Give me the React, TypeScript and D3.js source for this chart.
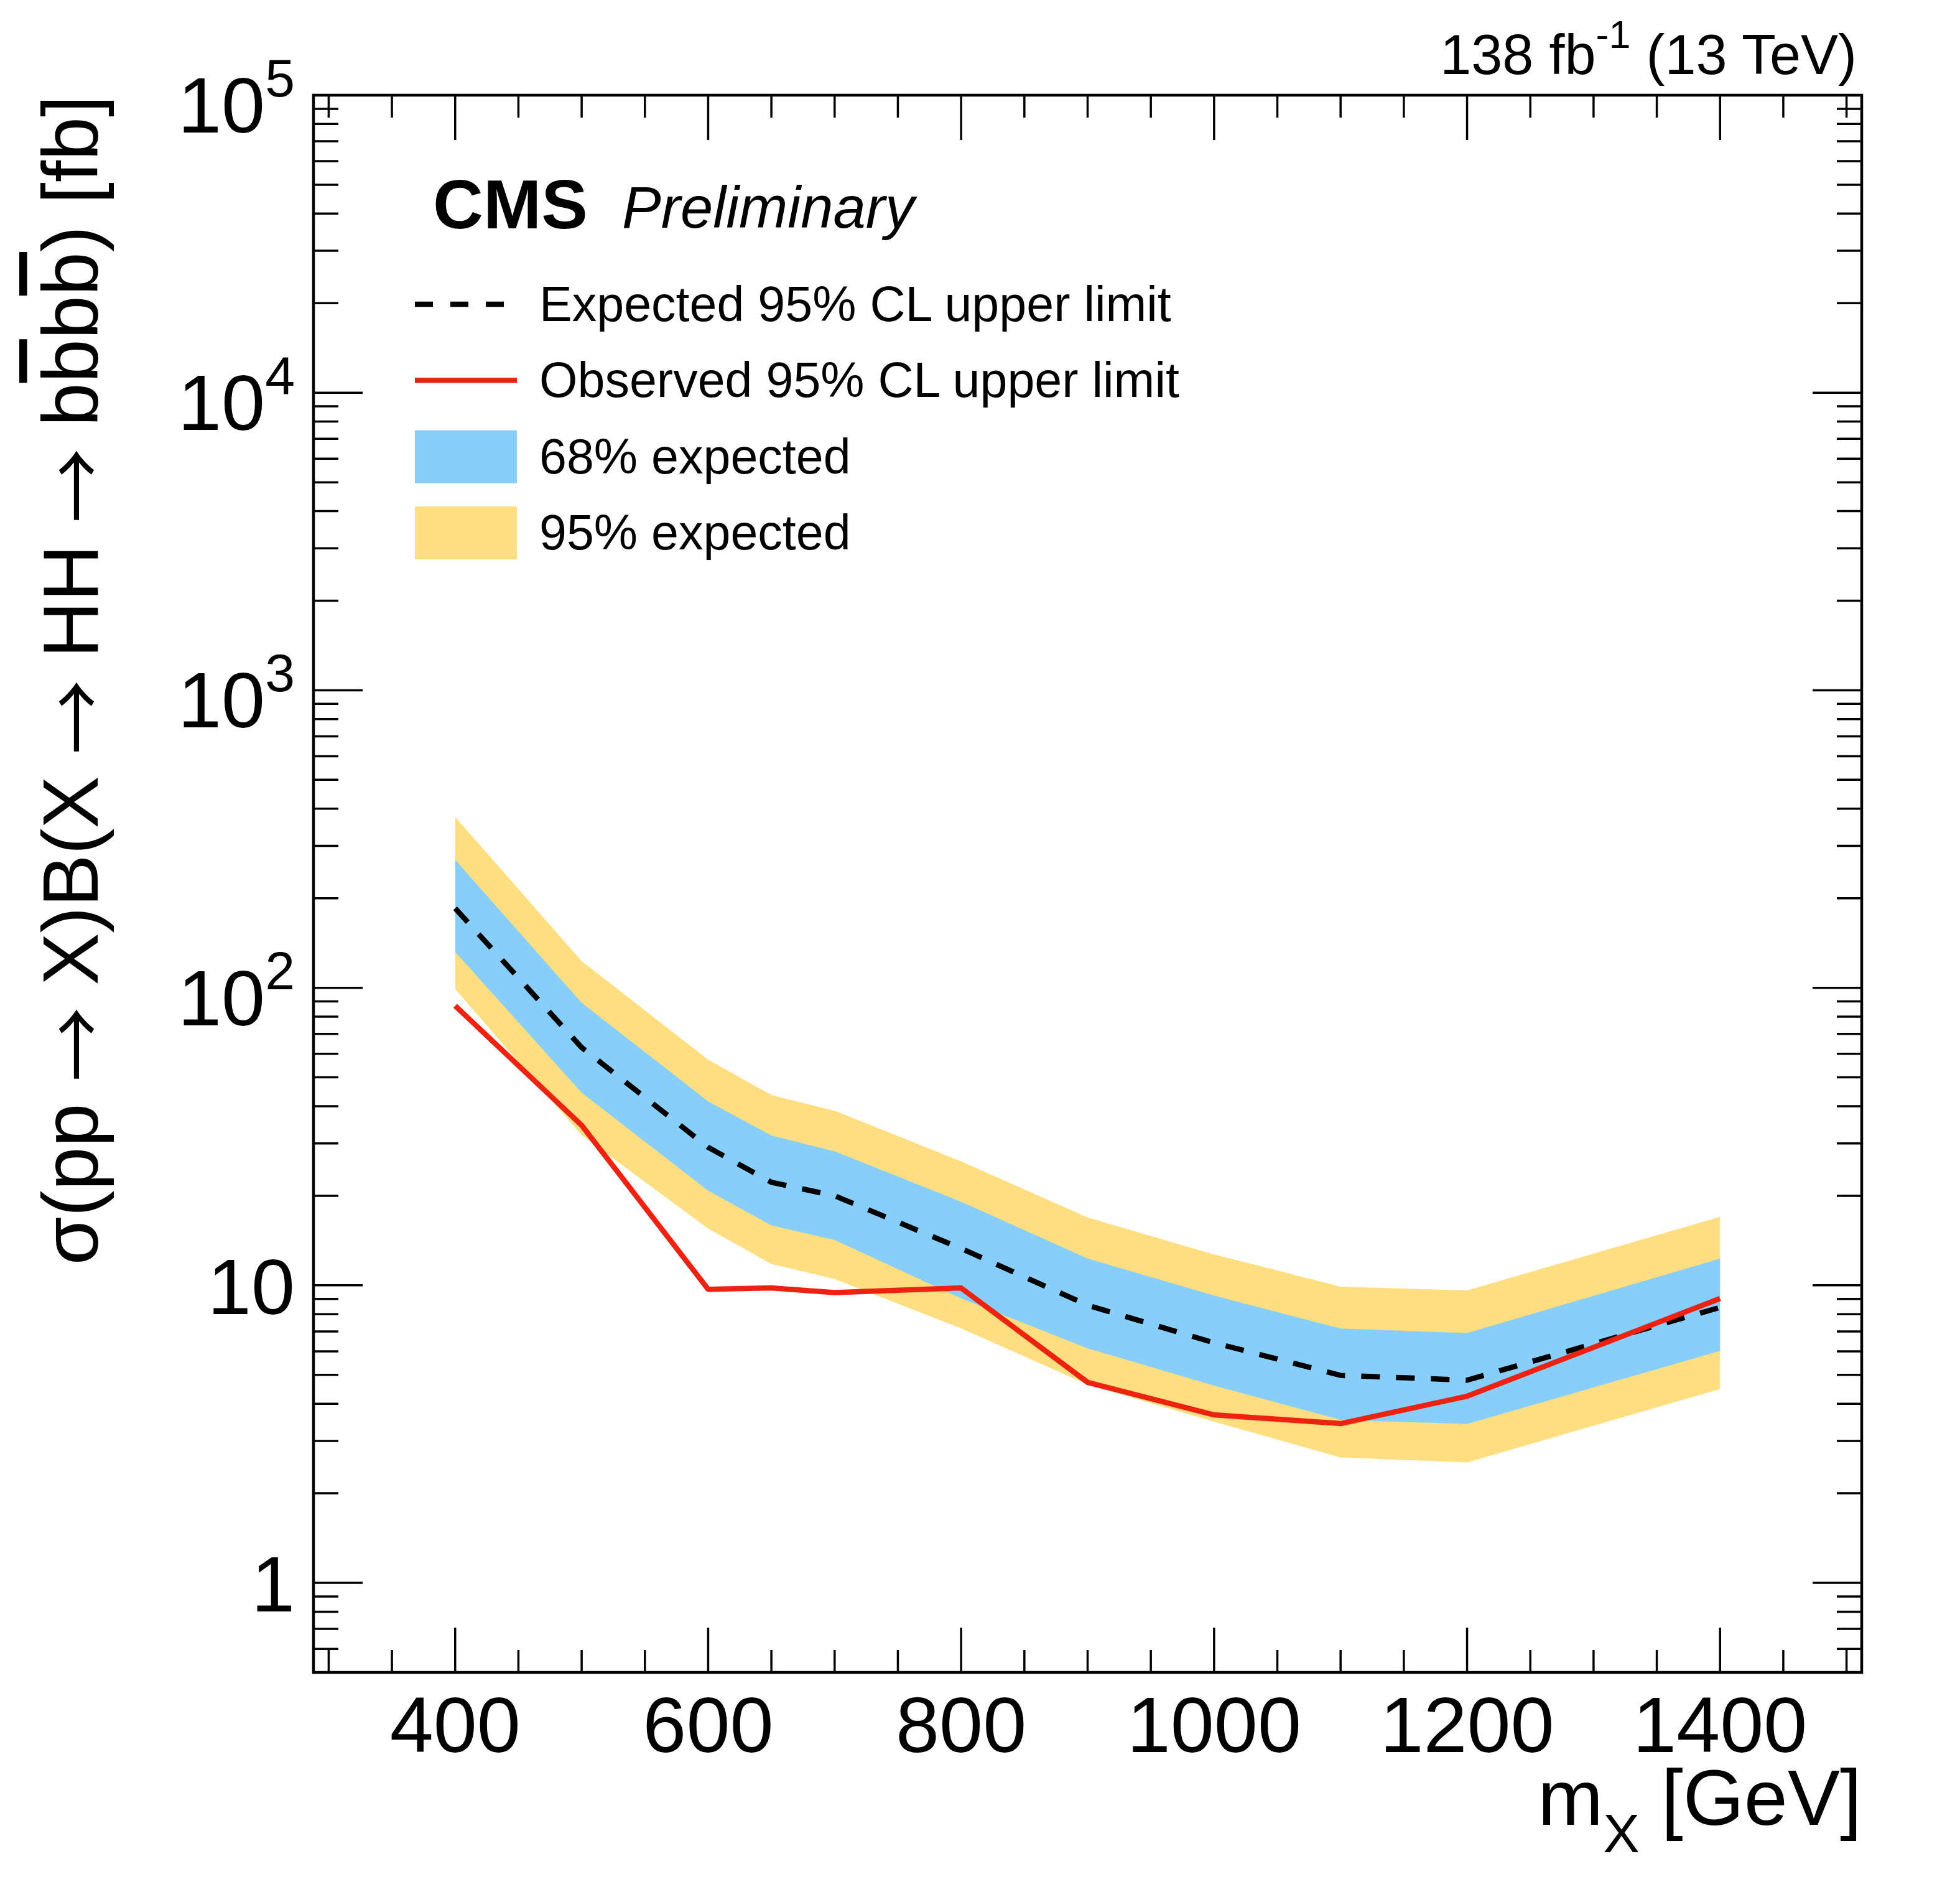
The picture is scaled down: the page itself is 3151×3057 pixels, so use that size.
import React, { useRef, useEffect } from "react";
import * as d3 from "d3";

const width = 3151;
const height = 3057;
const frame = { left: 504, right: 2993, top: 153, bottom: 2688 };
const font = "'Liberation Sans', Arial, Helvetica, sans-serif";

// Masse de la résonance X (GeV)
const mass = [400, 500, 600, 650, 700, 800, 900, 1000, 1100, 1200, 1400];

// Limites (fb)
const expected = [185, 63, 29.1, 22.2, 20.0, 13.3, 8.57, 6.41, 4.98, 4.8, 8.43];
const observed = [87, 34.5, 9.7, 9.8, 9.45, 9.8, 4.72, 3.67, 3.43, 4.24, 9.03];
const oneSigmaUp = [269, 89, 41.5, 31.9, 28.2, 19.1, 12.3, 9.24, 7.16, 6.91, 12.3];
const oneSigmaDown = [132, 44.4, 20.8, 15.9, 14.2, 9.04, 6.14, 4.6, 3.53, 3.42, 6.02];
const twoSigmaUp = [375, 123, 57.3, 43.6, 38.6, 26.1, 16.9, 12.7, 9.9, 9.61, 17.0];
const twoSigmaDown = [99, 32, 15.5, 11.8, 10.5, 7.17, 4.64, 3.48, 2.64, 2.54, 4.48];

// Axes
const xDomain = [288, 1512];
const yDomain = [0.5, 1e5];
const xMajorTicks = [400, 600, 800, 1000, 1200, 1400];
const xMinorTicks = d3.range(300, 1501, 50);
const yTickLabels = [
  { value: 1, base: "1", exp: "" },
  { value: 10, base: "10", exp: "" },
  { value: 1e2, base: "10", exp: "2" },
  { value: 1e3, base: "10", exp: "3" },
  { value: 1e4, base: "10", exp: "4" },
  { value: 1e5, base: "10", exp: "5" },
];

// Titre y découpé : texte normal, flèches, b barrés
const yTitleParts = [
  { t: "σ(pp ", kind: "txt" },
  { t: "→", kind: "arrow" },
  { t: " X)B(X ", kind: "txt" },
  { t: "→", kind: "arrow" },
  { t: " HH ", kind: "txt" },
  { t: "→", kind: "arrow" },
  { t: " b", kind: "txt" },
  { t: "b", kind: "bar" },
  { t: "b", kind: "txt" },
  { t: "b", kind: "bar" },
  { t: ") [fb]", kind: "txt" },
];

const legendEntries = [
  { label: "Expected 95% CL upper limit", kind: "dash" },
  { label: "Observed 95% CL upper limit", kind: "line" },
  { label: "68% expected", kind: "blue" },
  { label: "95% expected", kind: "yellow" },
];

const colors = {
  yellow: "#fede80",
  blue: "#87cffa",
  red: "#ee2211",
};

export default function LimitPlot() {
  const svgRef = useRef<SVGSVGElement>(null);

  useEffect(() => {
    if (!svgRef.current) return;
    const svg = d3.select(svgRef.current);
    svg.selectAll("*").remove();

    svg
      .attr("viewBox", [0, 0, width, height])
      .attr("width", width)
      .attr("height", height)
      .style("font-family", font);

    svg.append("rect").attr("width", width).attr("height", height).attr("fill", "white");

    const x = d3.scaleLinear().domain(xDomain).range([frame.left, frame.right]);
    const y = d3.scaleLog().domain(yDomain).range([frame.bottom, frame.top]);

    const idx = d3.range(mass.length);

    const band = (lo: number[], hi: number[]) =>
      d3
        .area<number>()
        .x((i) => x(mass[i]))
        .y0((i) => y(lo[i]))
        .y1((i) => y(hi[i]))(idx);

    const line = (vals: number[]) =>
      d3
        .line<number>()
        .x((i) => x(mass[i]))
        .y((i) => y(vals[i]))(idx);

    // Bandes 95% et 68%
    svg.append("path").attr("d", band(twoSigmaDown, twoSigmaUp)).attr("fill", colors.yellow);
    svg.append("path").attr("d", band(oneSigmaDown, oneSigmaUp)).attr("fill", colors.blue);

    // Limite attendue
    svg
      .append("path")
      .attr("d", line(expected))
      .attr("fill", "none")
      .attr("stroke", "black")
      .attr("stroke-width", 8.5)
      .attr("stroke-dasharray", "30 26");

    // Limite observée
    svg
      .append("path")
      .attr("d", line(observed))
      .attr("fill", "none")
      .attr("stroke", colors.red)
      .attr("stroke-width", 8.5)
      .attr("stroke-linejoin", "round");

    // Graduations
    const ticks = svg.append("g").attr("stroke", "black").attr("stroke-width", 3.5);

    xMinorTicks.forEach((v) => {
      const len = xMajorTicks.includes(v) ? 72 : 36;
      const px = x(v);
      ticks.append("line").attr("x1", px).attr("x2", px).attr("y1", frame.bottom).attr("y2", frame.bottom - len);
      ticks.append("line").attr("x1", px).attr("x2", px).attr("y1", frame.top).attr("y2", frame.top + len);
    });

    y.ticks().forEach((v) => {
      const major = Math.abs(Math.log10(v) - Math.round(Math.log10(v))) < 1e-9;
      const len = major ? 79 : 40;
      const py = y(v);
      ticks.append("line").attr("x1", frame.left).attr("x2", frame.left + len).attr("y1", py).attr("y2", py);
      ticks.append("line").attr("x1", frame.right).attr("x2", frame.right - len).attr("y1", py).attr("y2", py);
    });

    // Cadre
    svg
      .append("rect")
      .attr("x", frame.left)
      .attr("y", frame.top)
      .attr("width", frame.right - frame.left)
      .attr("height", frame.bottom - frame.top)
      .attr("fill", "none")
      .attr("stroke", "black")
      .attr("stroke-width", 4.5);

    // Labels axe x
    svg
      .append("g")
      .selectAll("text")
      .data(xMajorTicks)
      .join("text")
      .attr("x", (d) => x(d))
      .attr("y", 2816)
      .attr("text-anchor", "middle")
      .style("font-size", "126px")
      .text((d) => d);

    // Labels axe y
    yTickLabels.forEach((t) => {
      const py = y(t.value);
      const txt = svg
        .append("text")
        .attr("x", 474)
        .attr("y", t.exp ? py + 60 : py + 46)
        .attr("text-anchor", "end")
        .style("font-size", "126px");
      txt.append("tspan").text(t.base);
      if (t.exp) {
        txt.append("tspan").attr("dy", -58).style("font-size", "86px").text(t.exp);
      }
    });

    // Titre axe x
    const xt = svg
      .append("text")
      .attr("x", frame.right)
      .attr("y", 2933)
      .attr("text-anchor", "end")
      .style("font-size", "126px");
    xt.append("tspan").text("m");
    xt.append("tspan").attr("dy", 44).style("font-size", "88px").text("X");
    xt.append("tspan").attr("dy", -44).text(" [GeV]");

    // Titre axe y
    const yt = svg
      .append("text")
      .attr("transform", `translate(157,${frame.top}) rotate(-90)`)
      .attr("text-anchor", "end")
      .style("font-size", "126px");
    const arrowShift = 12;
    let shifted = false;
    yTitleParts.forEach((p) => {
      const ts = yt.append("tspan").text(p.t);
      if (p.kind === "arrow") {
        ts.style("font-family", "'Noto Sans CJK SC'").style("font-size", "120px").attr("dy", arrowShift);
        shifted = true;
      } else if (shifted) {
        ts.attr("dy", -arrowShift);
        shifted = false;
      }
      if (p.kind === "bar") ts.style("text-decoration", "overline");
    });

    // Luminosité
    const lumi = svg
      .append("text")
      .attr("x", 2985)
      .attr("y", 119)
      .attr("text-anchor", "end")
      .style("font-size", "90px");
    lumi.append("tspan").text("138 fb");
    lumi.append("tspan").attr("dy", -42).style("font-size", "63px").text("-1");
    lumi.append("tspan").attr("dy", 42).text(" (13 TeV)");

    // CMS Preliminary
    svg
      .append("text")
      .attr("x", 696)
      .attr("y", 367)
      .style("font-size", "112px")
      .style("font-weight", "bold")
      .text("CMS");
    svg
      .append("text")
      .attr("x", 1000)
      .attr("y", 366)
      .style("font-size", "94px")
      .style("font-style", "italic")
      .text("Preliminary");

    // Légende
    const legend = svg.append("g");
    legendEntries.forEach((e, i) => {
      const cy = 489 + i * 122.3;
      if (e.kind === "dash") {
        legend
          .append("line")
          .attr("x1", 667)
          .attr("x2", 810)
          .attr("y1", cy)
          .attr("y2", cy)
          .attr("stroke", "black")
          .attr("stroke-width", 8.5)
          .attr("stroke-dasharray", "29 28");
      } else if (e.kind === "line") {
        legend
          .append("line")
          .attr("x1", 667)
          .attr("x2", 831)
          .attr("y1", cy)
          .attr("y2", cy)
          .attr("stroke", colors.red)
          .attr("stroke-width", 8.5);
      } else {
        legend
          .append("rect")
          .attr("x", 667)
          .attr("y", cy - 42)
          .attr("width", 164)
          .attr("height", 85)
          .attr("fill", e.kind === "blue" ? colors.blue : colors.yellow);
      }
      legend
        .append("text")
        .attr("x", 867)
        .attr("y", cy + 27)
        .style("font-size", "79px")
        .text(e.label);
    });
  }, []);

  return <svg ref={svgRef} style={{ position: "absolute", left: 0, top: 0 }}></svg>;
}
